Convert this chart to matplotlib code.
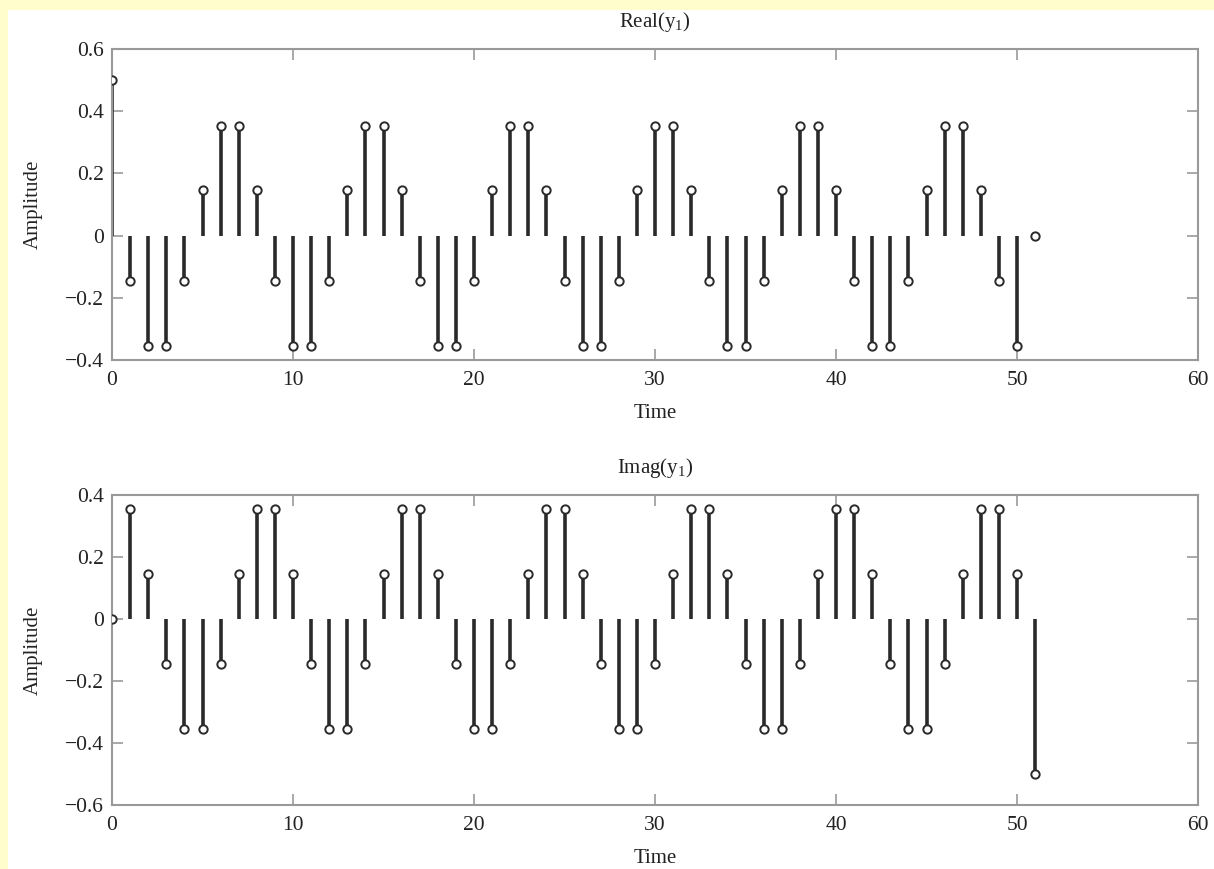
import matplotlib
matplotlib.use('Agg')
import matplotlib.pyplot as plt
from matplotlib.patches import Rectangle
from matplotlib.ticker import FuncFormatter

plt.rcParams['font.family'] = ['Liberation Serif', 'DejaVu Serif']
plt.rcParams['mathtext.fontset'] = 'custom'
plt.rcParams['mathtext.rm'] = 'Liberation Serif'
plt.rcParams['mathtext.it'] = 'Liberation Serif'

# 数据
n = list(range(52))
real_y1 = [0.5,
           -0.146, -0.354, -0.354, -0.146, 0.146, 0.354, 0.354, 0.146,
           -0.146, -0.354, -0.354, -0.146, 0.146, 0.354, 0.354, 0.146,
           -0.146, -0.354, -0.354, -0.146, 0.146, 0.354, 0.354, 0.146,
           -0.146, -0.354, -0.354, -0.146, 0.146, 0.354, 0.354, 0.146,
           -0.146, -0.354, -0.354, -0.146, 0.146, 0.354, 0.354, 0.146,
           -0.146, -0.354, -0.354, -0.146, 0.146, 0.354, 0.354, 0.146,
           -0.146, -0.354, 0.0]
imag_y1 = [0.0,
           0.354, 0.146, -0.146, -0.354, -0.354, -0.146, 0.146, 0.354,
           0.354, 0.146, -0.146, -0.354, -0.354, -0.146, 0.146, 0.354,
           0.354, 0.146, -0.146, -0.354, -0.354, -0.146, 0.146, 0.354,
           0.354, 0.146, -0.146, -0.354, -0.354, -0.146, 0.146, 0.354,
           0.354, 0.146, -0.146, -0.354, -0.354, -0.146, 0.146, 0.354,
           0.354, 0.146, -0.146, -0.354, -0.354, -0.146, 0.146, 0.354,
           0.354, 0.146, -0.5]
titles = ['Real(y$_1$)', 'Imag(y$_1$)']
ylims = [(-0.4, 0.6), (-0.6, 0.4)]
yticks = [[-0.4, -0.2, 0, 0.2, 0.4, 0.6], [-0.6, -0.4, -0.2, 0, 0.2, 0.4]]
xticks = [0, 10, 20, 30, 40, 50, 60]

fig = plt.figure(figsize=(12.14, 8.69), dpi=100, facecolor='#fffdcc')
# 白色画布区域（左上留黄边）
fig.patches.append(Rectangle((8 / 1214, 0), 1, 1 - 10 / 869, transform=fig.transFigure,
                             facecolor='white', edgecolor='none', zorder=-10))

def fmt(v, pos):
    if abs(v) < 1e-9:
        return '0'
    return ('%.1f' % v).replace('-', '\u2212')

positions = [[0.0923, 0.5857, 0.8946, 0.3579], [0.0923, 0.0736, 0.8946, 0.3567]]
for i, data in enumerate([real_y1, imag_y1]):
    ax = fig.add_axes(positions[i])
    ax.set_facecolor('white')
    markerline, stemlines, baseline = ax.stem(n, data, basefmt=' ')
    plt.setp(stemlines, color='#2a2a2a', linewidth=2.6)
    plt.setp(markerline, marker='o', markersize=6, markerfacecolor='white',
             markeredgecolor='#2a2a2a', markeredgewidth=1.4, zorder=3)
    ax.set_xlim(0, 60)
    ax.set_ylim(*ylims[i])
    ax.set_xticks(xticks)
    ax.set_yticks(yticks[i])
    ax.yaxis.set_major_formatter(FuncFormatter(fmt))
    ax.tick_params(direction='in', length=8, width=1.2, color='#999999',
                   top=True, right=True, labelsize=15.5, labelcolor='#222222')
    ax.tick_params(axis='x', pad=8)
    ax.tick_params(axis='y', pad=6)
    for s in ax.spines.values():
        s.set_color('#999999')
        s.set_linewidth(1.5)
    ax.set_title(titles[i], fontsize=15, color='#222222', pad=16)
    ax.set_xlabel('Time', fontsize=15, color='#222222', labelpad=10)
    ax.set_ylabel('Amplitude', fontsize=15, color='#222222', labelpad=16)

plt.savefig('out.png', dpi=100, facecolor=fig.get_facecolor())
